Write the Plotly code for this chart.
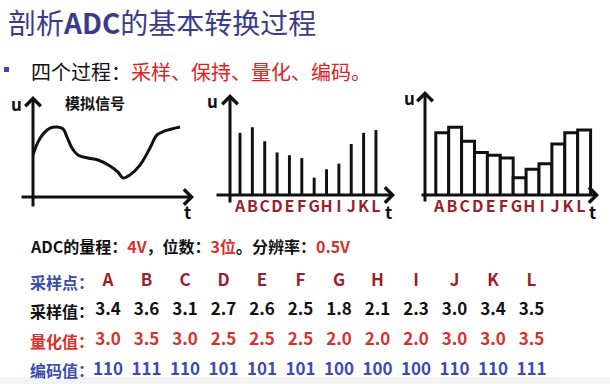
import plotly.graph_objects as go

# ---------------- data ----------------
letters = ["A", "B", "C", "D", "E", "F", "G", "H", "I", "J", "K", "L"]
sampled = [3.4, 3.6, 3.1, 2.7, 2.6, 2.5, 1.8, 2.1, 2.3, 3.0, 3.4, 3.5]
quantized = [3.0, 3.5, 3.0, 2.5, 2.5, 2.5, 2.0, 2.0, 2.0, 3.0, 3.0, 3.5]
codes = ["110", "111", "110", "101", "101", "101", "100", "100", "100", "110", "110", "111"]
analog_t = [0, 0.38, 0.85, 1.31, 1.85, 2.31, 2.62, 3.0, 3.46, 4.23, 5.0, 5.92,
            6.54, 6.92, 7.46, 8.23, 9.0, 9.54, 10.15, 11.31]
analog_u = [2.68, 3.14, 3.47, 3.64, 3.68, 3.61, 3.32, 2.93, 2.68, 2.57, 2.50, 2.29,
            2.07, 1.86, 1.97, 2.32, 2.93, 3.40, 3.54, 3.68]
row_labels = ["采样点：", "采样值：", "量化值：", "编码值："]

# ---------------- styling ----------------
W, H = 610, 384
FONT = "Noto Sans CJK SC"
TITLE_C = "#3b3b8c"
RED = "#e0201c"
TRED = "#d7312c"
BLUE = "#3b4bb3"
DRED = "#9a1f2e"
BLK = "#111111"


def PX(x):
    return x / W


def PY(y):
    return 1 - y / H


U0 = 1.18   # voltage at axis baseline (sketch)
US = 28.0   # px per volt in the sketches

fig = go.Figure()

# chart 1: analog signal
fig.add_trace(go.Scatter(x=analog_t, y=analog_u, mode="lines",
                         line=dict(color=BLK, width=3, shape="spline"),
                         xaxis="x", yaxis="y", hoverinfo="skip"))
# chart 2: sampled stems
fig.add_trace(go.Bar(x=list(range(len(letters))), y=sampled, width=0.24,
                     marker=dict(color=BLK, line=dict(width=0)),
                     xaxis="x2", yaxis="y2", hoverinfo="skip"))
# chart 3: sample & hold
fig.add_trace(go.Bar(x=list(range(len(letters))), y=sampled, width=1, offset=-0.25,
                     marker=dict(color="white", line=dict(color=BLK, width=3)),
                     xaxis="x3", yaxis="y3", hoverinfo="skip"))

# table
idx = list(range(len(letters)))
rows = [
    (letters, DRED),
    ([f"{v:.1f}" for v in sampled], BLK),
    ([f"{v:.1f}" for v in quantized], TRED),
    (codes, BLUE),
]
for r, (vals, col) in enumerate(rows):
    fig.add_trace(go.Scatter(x=idx, y=[r] * len(idx), mode="text", text=vals,
                             textposition="middle center",
                             textfont=dict(family=FONT, size=17, color=col, weight="bold"),
                             xaxis="x4", yaxis="y4", hoverinfo="skip"))

hidden = dict(visible=False, showgrid=False, zeroline=False, fixedrange=True)
letter_axis = dict(showgrid=False, zeroline=False, showline=False, ticks="",
                   tickmode="array", tickvals=idx, ticktext=letters, tickangle=0,
                   tickfont=dict(family=FONT, size=16, color=DRED, weight="bold"),
                   fixedrange=True)

C0, CS = 108, 38.5     # table column centre / spacing (px)
R0, RS = 281.5, 29.6   # table row centre / spacing (px)

fig.update_layout(
    width=W, height=H, margin=dict(l=0, r=0, t=0, b=0),
    paper_bgcolor="white", plot_bgcolor="rgba(0,0,0,0)",
    showlegend=False, hovermode=False,
    xaxis=dict(domain=[PX(33), PX(193)], range=[0, 160 / 13], **hidden),
    yaxis=dict(domain=[PY(197), PY(90)], range=[U0, U0 + 107 / US], **hidden),
    xaxis2=dict(domain=[PX(215), PX(395)], range=[(215 - 240) / 12.36, (395 - 240) / 12.36],
                anchor="free", position=PY(195), **letter_axis),
    yaxis2=dict(domain=[PY(195), PY(90)], range=[U0, U0 + 105 / US], anchor="x2", **hidden),
    xaxis3=dict(domain=[PX(420), PX(598)], range=[(420 - 439) / 12.9, (598 - 439) / 12.9],
                anchor="free", position=PY(195), **letter_axis),
    yaxis3=dict(domain=[PY(195), PY(90)], range=[U0, U0 + 105 / US], anchor="x3", **hidden),
    xaxis4=dict(domain=[PX(20), PX(600)], range=[(20 - C0) / CS, (600 - C0) / CS], anchor="y4", **hidden),
    yaxis4=dict(domain=[PY(384), PY(262)], range=[(384 - R0) / RS, (262 - R0) / RS], anchor="x4", **hidden),
)

ann = []


def text(x, y, s, size, color=BLK, xanchor="left", bold=False):
    ann.append(dict(x=PX(x), y=PY(y), xref="paper", yref="paper", text=s,
                    showarrow=False, xanchor=xanchor, yanchor="middle",
                    font=dict(family=FONT, size=size, color=color,
                              weight="bold" if bold else "normal")))


def arrow(x0, y0, x1, y1):
    ann.append(dict(x=PX(x1), y=PY(y1), xref="paper", yref="paper",
                    ax=x0 - x1, ay=y0 - y1, axref="pixel", ayref="pixel",
                    text="", showarrow=True, arrowhead=4, arrowsize=1.0,
                    arrowwidth=3, arrowcolor=BLK, standoff=0, startstandoff=0))


# title and subtitle
text(6, 22, "剖析<b>ADC</b>的基本转换过程", 28, TITLE_C)
text(29, 71, "四个过程：<span style='color:%s'>采样、保持、量化、编码。</span>" % RED, 20, BLK)

# axes arrows
arrow(33, 208, 33, 96)
arrow(20, 197, 194, 197)
arrow(230, 204, 230, 94)
arrow(215, 195, 395, 195)
arrow(425, 203, 425, 91)
arrow(420, 195, 599, 195)

# axis labels
text(63, 102, "模拟信号", 15, BLK, bold=True)
for ux, uy in [(16, 103), (212, 100), (409, 97)]:
    text(ux, uy, "u", 17, BLK, xanchor="center", bold=True)
for tx, ty in [(187, 211), (389, 211), (592, 211)]:
    text(tx, ty, "t", 17, BLK, xanchor="center", bold=True)

# ADC info line
text(28, 246, "<b>ADC的量程：<span style='color:%s'>4V</span>，位数：<span style='color:%s'>3位</span>。"
              "分辨率：<span style='color:%s'>0.5V</span></b>" % (TRED, TRED, TRED), 16, BLK)

# row labels
for r, (lab, col) in enumerate(zip(row_labels, [BLUE, BLK, TRED, BLUE])):
    text(28, R0 + RS * r, lab, 16, col, bold=True)

fig.update_layout(annotations=ann,
                  shapes=[dict(type="rect", xref="paper", yref="paper",
                               x0=PX(4), x1=PX(9), y0=PY(72), y1=PY(67),
                               fillcolor="#3a46c8", line=dict(width=0)),
                          dict(type="rect", xref="paper", yref="paper", layer="below",
                               x0=0, x1=1, y0=0, y1=PY(377),
                               fillcolor="#f3f3f3", line=dict(width=0))])

fig.write_html("out.html", post_script="document.body.style.margin='0';",
               config={"displayModeBar": False})
